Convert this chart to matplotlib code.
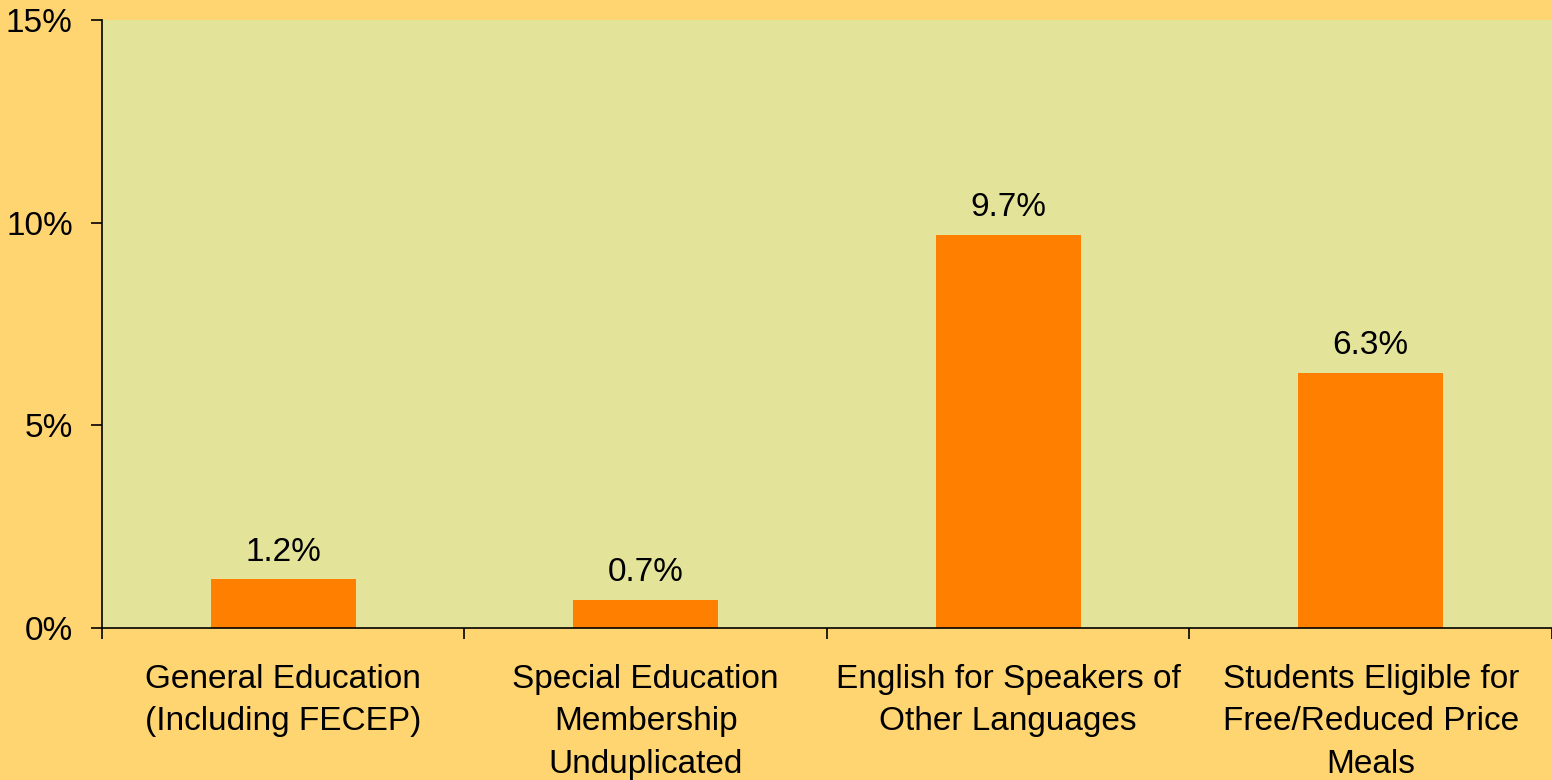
import numpy as np
import matplotlib.pyplot as plt
from matplotlib.ticker import FixedLocator, PercentFormatter

categories = ["General Education\n(Including FECEP)",
              "Special Education\nMembership\nUnduplicated",
              "English for Speakers of\nOther Languages",
              "Students Eligible for\nFree/Reduced Price\nMeals"]
values = [1.2, 0.7, 9.7, 6.3]

plt.rcParams['font.family'] = ['Liberation Sans', 'DejaVu Sans']

fig = plt.figure(figsize=(15.52, 7.80), dpi=100, facecolor='#FFD572')
ax = fig.add_axes([0.0657, 0.1949, 0.9343, 0.7795])
ax.set_facecolor('#E3E49A')

x = np.arange(len(values))
ax.bar(x, values, width=0.40, color='#FF7F00', zorder=2)
for xi, v in zip(x, values):
    ax.text(xi, v + 0.28, f"{v:.1f}%", ha='center', va='bottom', fontsize=24)

ax.set_xlim(-0.5, len(values) - 0.5)
ax.set_ylim(0, 15)
ax.set_yticks([0, 5, 10, 15])
ax.yaxis.set_major_formatter(PercentFormatter(decimals=0))
ax.tick_params(axis='y', labelsize=24, length=8, width=1.2, direction='out', pad=13)

ax.set_xticks(x)
ax.set_xticklabels(categories, fontsize=24, linespacing=1.47)
ax.tick_params(axis='x', which='major', length=0, pad=26)
ax.xaxis.set_minor_locator(FixedLocator(np.arange(len(values) + 1) - 0.5))
ax.tick_params(axis='x', which='minor', length=8, width=1.2, direction='out')

for s in ['top', 'right']:
    ax.spines[s].set_visible(False)
ax.spines['left'].set_linewidth(1.2)
ax.spines['bottom'].set_linewidth(1.2)

fig.savefig('out.png', dpi=100, facecolor=fig.get_facecolor())
